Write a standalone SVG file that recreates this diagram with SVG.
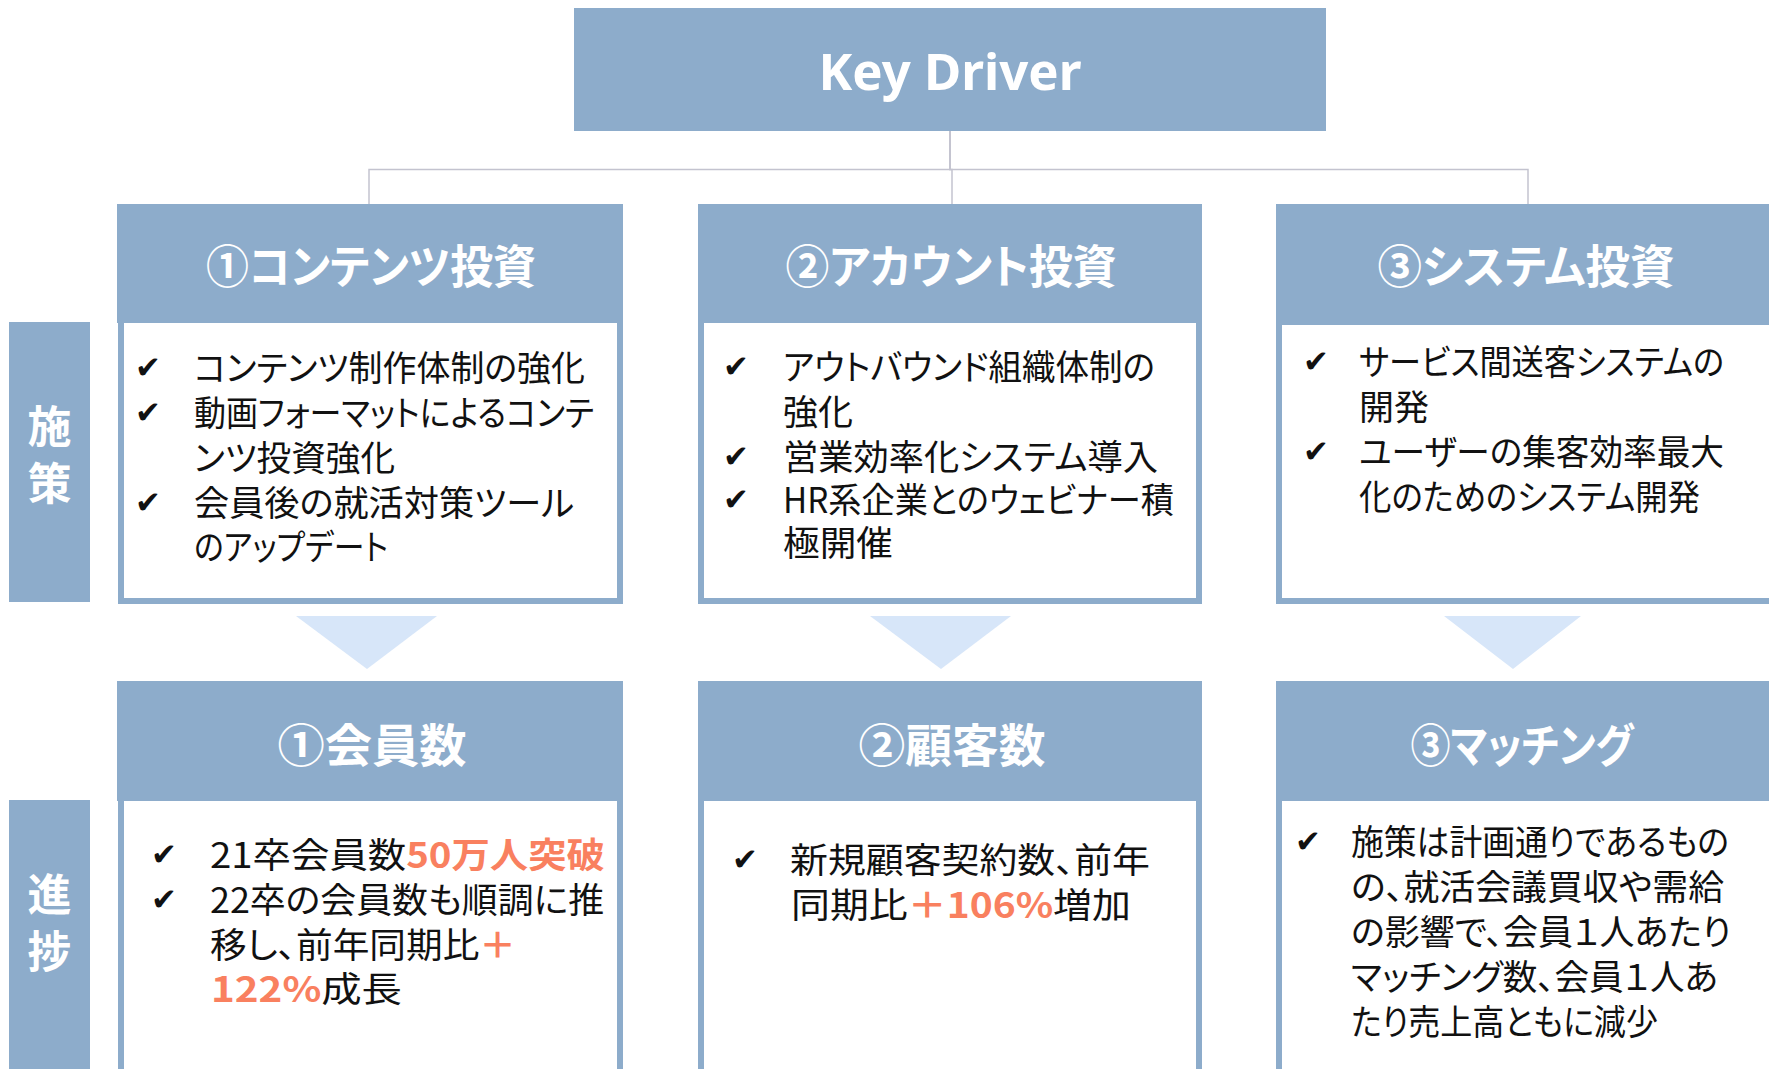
<svg xmlns="http://www.w3.org/2000/svg" width="1769" height="1069" viewBox="0 0 1769 1069">
<style>
.hdr{fill:#8DACCB}
.body{fill:#fff;stroke:#8DACCB;stroke-width:6}
.arrow{fill:#D7E6F9}
.conn{fill:none;stroke:#C3C3CF;stroke-width:1.5}
.t{font-family:"Noto Sans CJK JP","Noto Sans CJK SC",sans-serif;font-size:35px;fill:#111;font-feature-settings:"palt" 1}
.ck{font-family:"DejaVu Sans",sans-serif;font-size:31px;fill:#111}
.h{font-family:"Noto Sans CJK JP",sans-serif;font-weight:bold;font-size:46px;fill:#fff;text-anchor:middle;font-feature-settings:"palt" 1}
.side{font-family:"Noto Sans CJK JP",sans-serif;font-weight:bold;font-size:44px;fill:#fff;text-anchor:middle}
.o{fill:#F9805F;font-weight:bold}
</style>
<rect width="1769" height="1069" fill="#fff"/>

<g id="connectors">
<path class="conn" d="M950 131 V169.5 H369 V205"/>
<path class="conn" d="M950 131 V169.5 H952 V205"/>
<path class="conn" d="M950 131 V169.5 H1528 V208"/>
</g>

<g id="key-driver">
<rect class="hdr" x="574" y="8" width="752" height="123"/>
<text x="950" y="90" text-anchor="middle" font-family="Noto Sans, sans-serif" font-weight="bold" font-size="50" fill="#fff" textLength="263" lengthAdjust="spacingAndGlyphs">Key Driver</text>
</g>

<g id="label-shisaku">
<rect class="hdr" x="9" y="322" width="81" height="280"/>
<text class="side" x="49.5" y="443">施</text>
<text class="side" x="49.5" y="500">策</text>
</g>

<g id="label-shinchoku">
<rect class="hdr" x="9" y="800" width="81" height="280"/>
<text class="side" x="49.5" y="911">進</text>
<text class="side" x="49.5" y="968">捗</text>
</g>

<g id="content-invest">
<rect class="body" x="121" y="320" width="499" height="281"/>
<rect class="hdr" x="117" y="204" width="506" height="119"/>
<text class="h" x="371" y="283" textLength="330" lengthAdjust="spacingAndGlyphs">①コンテンツ投資</text>
<text class="ck" x="135" y="378">✔</text>
<text class="ck" x="135" y="423">✔</text>
<text class="ck" x="135" y="513">✔</text>
<text class="t" x="194" y="381" textLength="391" lengthAdjust="spacingAndGlyphs">コンテンツ制作体制の強化</text>
<text class="t" x="194" y="426" textLength="400" lengthAdjust="spacingAndGlyphs">動画フォーマットによるコンテ</text>
<text class="t" x="194" y="471" textLength="201" lengthAdjust="spacingAndGlyphs">ンツ投資強化</text>
<text class="t" x="194" y="516" textLength="380" lengthAdjust="spacingAndGlyphs">会員後の就活対策ツール</text>
<text class="t" x="194" y="560" textLength="194" lengthAdjust="spacingAndGlyphs">のアップデート</text>
</g>

<g id="account-invest">
<rect class="body" x="701" y="320" width="498" height="281"/>
<rect class="hdr" x="698" y="204" width="504" height="119"/>
<text class="h" x="951" y="283" textLength="331" lengthAdjust="spacingAndGlyphs">②アカウント投資</text>
<text class="ck" x="723" y="377">✔</text>
<text class="ck" x="723" y="467">✔</text>
<text class="ck" x="723" y="510">✔</text>
<text class="t" x="783" y="380" textLength="372" lengthAdjust="spacingAndGlyphs">アウトバウンド組織体制の</text>
<text class="t" x="783" y="425">強化</text>
<text class="t" x="783" y="470" textLength="375" lengthAdjust="spacingAndGlyphs">営業効率化システム導入</text>
<text class="t" x="783" y="513" textLength="391" lengthAdjust="spacingAndGlyphs">HR系企業とのウェビナー積</text>
<text class="t" x="783" y="556" textLength="110" lengthAdjust="spacingAndGlyphs">極開催</text>
</g>

<g id="system-invest">
<rect class="body" x="1279" y="320" width="520" height="281"/>
<rect class="hdr" x="1276" y="204" width="510" height="121"/>
<text class="h" x="1526" y="283" textLength="297" lengthAdjust="spacingAndGlyphs">③システム投資</text>
<text class="ck" x="1303" y="372">✔</text>
<text class="ck" x="1303" y="462">✔</text>
<text class="t" x="1359" y="375" textLength="365" lengthAdjust="spacingAndGlyphs">サービス間送客システムの</text>
<text class="t" x="1359" y="420">開発</text>
<text class="t" x="1359" y="465" textLength="365" lengthAdjust="spacingAndGlyphs">ユーザーの集客効率最大</text>
<text class="t" x="1359" y="510" textLength="341" lengthAdjust="spacingAndGlyphs">化のためのシステム開発</text>
</g>

<g id="arrows">
<polygon class="arrow" points="296,616 437,616 367,669"/>
<polygon class="arrow" points="870,616 1011,616 941,669"/>
<polygon class="arrow" points="1444,616 1581,616 1513,669"/>
</g>

<g id="members">
<rect class="body" x="121" y="798" width="499" height="300"/>
<rect class="hdr" x="117" y="681" width="506" height="120"/>
<text class="h" x="372" y="762" textLength="189" lengthAdjust="spacingAndGlyphs">①会員数</text>
<text class="ck" x="151" y="865">✔</text>
<text class="ck" x="151" y="910">✔</text>
<text class="t" x="210" y="868" textLength="395" lengthAdjust="spacingAndGlyphs">21卒会員数<tspan class="o">50万人突破</tspan></text>
<text class="t" x="210" y="913" textLength="394" lengthAdjust="spacingAndGlyphs">22卒の会員数も順調に推</text>
<text class="t" x="210" y="958" textLength="306" lengthAdjust="spacingAndGlyphs">移し、前年同期比<tspan class="o">＋</tspan></text>
<text class="t" x="211" y="1002" textLength="191" lengthAdjust="spacingAndGlyphs"><tspan class="o">122%</tspan>成長</text>
</g>

<g id="customers">
<rect class="body" x="701" y="798" width="498" height="300"/>
<rect class="hdr" x="698" y="681" width="504" height="120"/>
<text class="h" x="952" y="762" textLength="187" lengthAdjust="spacingAndGlyphs">②顧客数</text>
<text class="ck" x="732" y="870">✔</text>
<text class="t" x="790" y="873" textLength="360" lengthAdjust="spacingAndGlyphs">新規顧客契約数、前年</text>
<text class="t" x="791" y="918" textLength="340" lengthAdjust="spacingAndGlyphs">同期比<tspan class="o">＋106%</tspan>増加</text>
</g>

<g id="matching">
<rect class="body" x="1279" y="798" width="520" height="300"/>
<rect class="hdr" x="1276" y="681" width="510" height="120"/>
<text class="h" x="1522" y="762" textLength="223" lengthAdjust="spacingAndGlyphs">③マッチング</text>
<text class="ck" x="1295" y="852">✔</text>
<text class="t" x="1351" y="855" textLength="378" lengthAdjust="spacingAndGlyphs">施策は計画通りであるもの</text>
<text class="t" x="1351" y="900" textLength="373" lengthAdjust="spacingAndGlyphs">の、就活会議買収や需給</text>
<text class="t" x="1351" y="945" textLength="380" lengthAdjust="spacingAndGlyphs">の影響で、会員１人あたり</text>
<text class="t" x="1351" y="990" textLength="367" lengthAdjust="spacingAndGlyphs">マッチング数、会員１人あ</text>
<text class="t" x="1351" y="1035" textLength="307" lengthAdjust="spacingAndGlyphs">たり売上高ともに減少</text>
</g>
</svg>
